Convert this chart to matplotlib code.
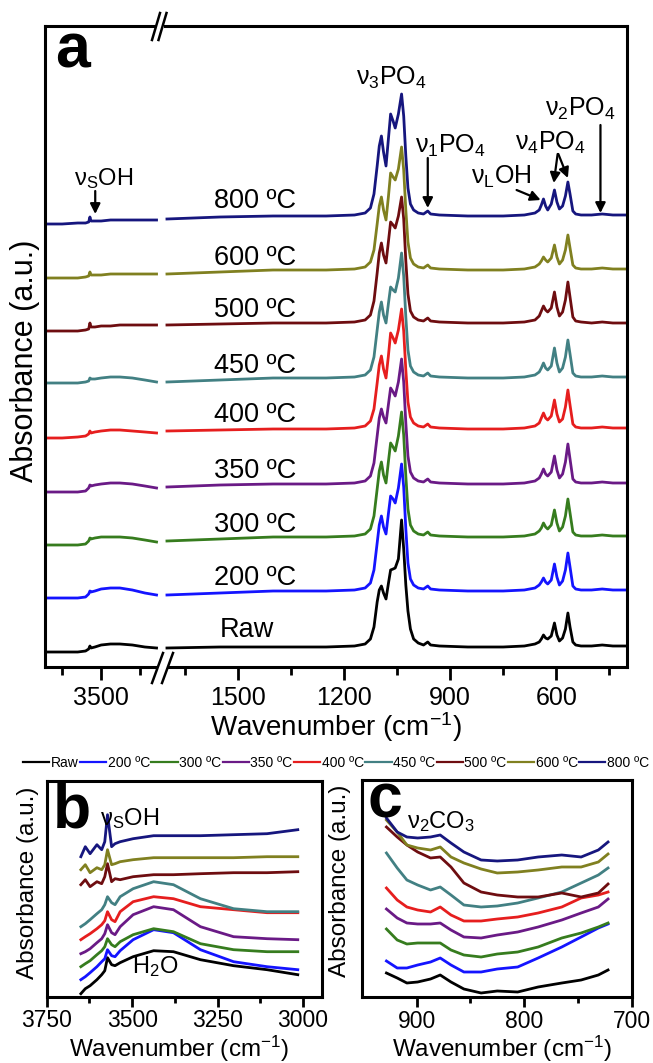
import numpy as np
import matplotlib
matplotlib.use('Agg')
import matplotlib.pyplot as plt
from matplotlib.lines import Line2D

plt.rcParams['font.family'] = ['Liberation Sans', 'DejaVu Sans']
plt.rcParams['mathtext.fontset'] = 'custom'
plt.rcParams['mathtext.rm'] = 'Liberation Sans'
plt.rcParams['mathtext.it'] = 'Liberation Sans:italic'
plt.rcParams['mathtext.bf'] = 'Liberation Sans:bold'

# samples, bottom -> top
samples = ['Raw', '200 ºC', '300 ºC', '350 ºC', '400 ºC', '450 ºC', '500 ºC', '600 ºC', '800 ºC']
colors = ['#000000', '#1414ff', '#367c1e', '#6a1a86', '#e61e1e', '#428083', '#6e0d10', '#808020', '#16167e']

# ---- panel a, OH region (left of the axis break)
wn_oh = [3860, 3750, 3650, 3600, 3580, 3572, 3565, 3540, 3500, 3440, 3380, 3300, 3220, 3145]
oh_raw = [-5, -5, -5, -4, -2, 1, -1, 0, 2, 3, 3, 2, 0, -1]
oh_200 = [-7, -7, -7, -6, -3, 0, -1, 0, 2, 3, 3, 1, -2, -4]
oh_300 = [-8, -8, -8, -7, -4, -1, -2, -1, 0, 0, 0, -1, -3, -5]
oh_350 = [-8, -8, -8, -7, -4, -1, -2, -1, 0, 1, 1, 0, -2, -4]
oh_400 = [-9, -9, -8, -7, -5, -2, -4, -3, -2, -1, -1, -2, -3, -4]
oh_450 = [-5, -5, -5, -4, -3, 0, -1, -1, 0, 1, 1, 0, -2, -4]
oh_500 = [-8, -8, -8, -7, -6, 0, -4, -4, -3, -3, -2, -2, -2, -2]
oh_600 = [-8, -8, -8, -7, -6, -2, -5, -5, -5, -4, -4, -4, -4, -4]
oh_800 = [-8, -8, -7, -7, -6, -1, -5, -5, -5, -4, -4, -4, -4, -4]

# ---- panel a, phosphate region (right of the break)
wn_fp = [1700, 1550, 1400, 1250, 1170, 1140, 1125, 1115, 1106, 1100,
         1094, 1088, 1081, 1074, 1068, 1061, 1055, 1046, 1037, 1031,
         1025, 1019, 1012, 1003, 990, 975, 963, 955, 930, 850, 750,
         690, 660, 648, 642, 636, 630, 624, 614, 605, 598,
         591, 582, 574, 567, 561, 553, 545, 530, 500, 470, 440, 405]
fp_raw = [-1, 0, 0, 0, 1, 3, 8, 20, 45, 57, 61, 54, 48, 64, 77, 78, 79, 88, 127, 98,
          62, 36, 18, 8, 4, 2, 5, 2, 1, 0, 0,
          1, 3, 5, 8, 12, 9, 8, 11, 24, 12, 6, 9, 18, 34, 20, 5, 2, 1, 1, 2, 1, 1]
fp_200 = [-4, -2, 0, 0, 1, 3, 8, 21, 48, 66, 75, 64, 57, 78, 95, 92, 88, 103, 127, 104,
          62, 28, 12, 6, 3, 2, 5, 2, 1, 0, 0,
          1, 3, 6, 9, 13, 9, 7, 11, 27, 14, 6, 10, 21, 38, 24, 5, 2, 1, 1, 2, 1, 1]
fp_300 = [-4, -2, 0, 0, 1, 3, 8, 21, 48, 66, 75, 62, 54, 76, 94, 90, 86, 101, 125, 102,
          61, 28, 12, 6, 3, 2, 5, 2, 1, 0, 0,
          1, 3, 6, 9, 14, 10, 8, 12, 27, 14, 6, 10, 21, 38, 24, 5, 2, 1, 1, 2, 1, 1]
fp_350 = [-3, -1, 0, 0, 1, 3, 8, 21, 48, 66, 75, 67, 61, 80, 96, 92, 88, 102, 125, 102,
          61, 28, 12, 6, 3, 2, 5, 2, 1, 0, 0,
          1, 3, 6, 10, 15, 10, 8, 12, 28, 14, 6, 10, 22, 40, 25, 5, 2, 1, 1, 2, 1, 1]
fp_400 = [-2, -1, 0, 0, 1, 3, 8, 20, 46, 64, 73, 60, 51, 74, 96, 91, 86, 99, 120, 98,
          59, 27, 12, 6, 3, 2, 5, 2, 1, 0, 0,
          1, 3, 6, 11, 16, 11, 9, 13, 29, 15, 7, 10, 22, 39, 24, 5, 2, 1, 1, 2, 1, 1]
fp_450 = [-4, -2, 0, 0, 1, 3, 8, 21, 48, 66, 76, 63, 55, 75, 91, 88, 86, 100, 125, 102,
          61, 28, 12, 6, 3, 2, 5, 2, 1, 0, 0,
          1, 3, 6, 10, 15, 10, 8, 12, 30, 15, 6, 10, 21, 38, 24, 5, 2, 1, 1, 2, 1, 1]
fp_500 = [-2, -1, 0, 0, 1, 3, 8, 22, 50, 70, 80, 68, 60, 82, 101, 98, 95, 107, 126, 104,
          62, 29, 12, 6, 3, 2, 5, 2, 1, 0, 0,
          1, 3, 7, 12, 17, 13, 11, 15, 31, 16, 7, 11, 23, 41, 26, 6, 2, 1, 0, 1, 0, 0]
fp_600 = [-4, -2, 0, 0, 1, 3, 8, 20, 46, 64, 73, 60, 50, 74, 97, 93, 90, 101, 123, 100,
          60, 28, 12, 6, 3, 2, 5, 2, 1, 0, 0,
          1, 3, 6, 9, 13, 10, 8, 12, 25, 13, 6, 10, 20, 35, 22, 5, 2, 1, 1, 2, 1, 1]
fp_800 = [-3, -1, 0, 0, 1, 3, 8, 22, 50, 70, 80, 64, 50, 78, 102, 95, 88, 102, 122, 100,
          60, 28, 12, 6, 3, 2, 5, 2, 1, 0, 0,
          1, 3, 6, 11, 17, 10, 6, 12, 26, 14, 7, 10, 20, 34, 22, 5, 2, 1, 1, 2, 1, 1]
# vertical stacking of panel a
offsets_a = [20, 76, 130, 183, 238, 289, 344, 397, 451]

# ---- panel b, OH stretching
wn_b = [3650, 3637, 3623, 3603, 3589, 3580, 3572, 3560, 3550, 3535, 3497, 3437, 3379, 3300, 3203, 3105, 3015]
b_raw = [3, 8, 11, 17, 22, 26, 39, 32, 31, 34, 40, 46, 45, 37, 31, 27, 22]
b_200 = [17, 20, 24, 30, 35, 38, 47, 41, 40, 46, 57, 67, 64, 47, 35, 30, 27]
b_300 = [30, 33, 36, 42, 46, 50, 58, 52, 50, 55, 62, 68, 65, 53, 47, 45, 45]
b_350 = [43, 45, 48, 54, 58, 63, 72, 64, 62, 70, 82, 90, 87, 70, 60, 58, 57]
b_400 = [57, 60, 63, 68, 72, 76, 85, 77, 75, 85, 95, 100, 98, 90, 87, 84, 84]
b_450 = [70, 73, 77, 83, 87, 92, 100, 94, 92, 100, 108, 115, 112, 98, 88, 85, 85]
b_500 = [112, 117, 110, 115, 113, 120, 133, 115, 118, 117, 120, 122, 122, 123, 124, 124, 125]
b_600 = [127, 132, 124, 129, 127, 132, 147, 132, 133, 135, 137, 139, 139, 139, 139, 140, 140]
b_800 = [140, 150, 143, 152, 147, 155, 182, 150, 153, 155, 158, 161, 161, 161, 162, 163, 167]

# ---- panel c, carbonate
wn_c = [928, 918, 909, 899, 887, 878, 868, 856, 840, 825, 806, 787, 765, 747, 731, 722]
c_raw = [24, 19, 14, 15, 18, 22, 15, 8, 4, 6, 5, 10, 14, 17, 22, 27]
c_200 = [36, 29, 29, 32, 35, 39, 32, 25, 25, 28, 30, 39, 50, 60, 69, 73]
c_300 = [68, 57, 53, 54, 54, 54, 47, 42, 40, 43, 45, 50, 59, 64, 70, 74]
c_350 = [88, 79, 74, 73, 73, 74, 67, 60, 59, 62, 65, 70, 77, 84, 90, 98]
c_400 = [109, 97, 90, 87, 85, 90, 82, 76, 76, 78, 80, 84, 90, 99, 102, 105]
c_450 = [144, 129, 117, 112, 107, 110, 102, 92, 90, 91, 94, 99, 105, 114, 122, 129]
c_500 = [170, 160, 152, 145, 139, 140, 130, 114, 105, 102, 100, 100, 104, 100, 104, 113]
c_600 = [177, 165, 152, 149, 147, 150, 140, 134, 128, 124, 125, 127, 130, 130, 135, 143]
c_800 = [179, 165, 160, 159, 160, 162, 154, 145, 137, 136, 137, 140, 142, 140, 147, 155]

oh_all = [oh_raw, oh_200, oh_300, oh_350, oh_400, oh_450, oh_500, oh_600, oh_800]
fp_all = [fp_raw, fp_200, fp_300, fp_350, fp_400, fp_450, fp_500, fp_600, fp_800]
b_all = [b_raw, b_200, b_300, b_350, b_400, b_450, b_500, b_600, b_800]
c_all = [c_raw, c_200, c_300, c_350, c_400, c_450, c_500, c_600, c_800]

W, H = 653, 1063
fig = plt.figure(figsize=(W / 100, H / 100), dpi=100)


def rect(x0, y0, x1, y1):
    # pixel box -> figure fraction
    return [x0 / W, 1 - y1 / H, (x1 - x0) / W, (y1 - y0) / H]


def fig_line(xs, ys, **kw):
    fig.add_artist(Line2D([x / W for x in xs], [1 - y / H for y in ys],
                          transform=fig.transFigure, **kw))


def style(ax, size, major=8, minor=5, pad=4):
    for s in ax.spines.values():
        s.set_linewidth(2.2)
    ax.tick_params(axis='x', which='major', direction='out', length=major, width=2,
                   labelsize=size, pad=pad)
    ax.tick_params(axis='x', which='minor', direction='out', length=minor, width=2)
    ax.tick_params(axis='y', left=False, labelleft=False)


lw = 2.0

# ================= panel a (broken x axis)
axL = fig.add_axes(rect(45, 26, 162, 667))
axR = fig.add_axes(rect(162, 26, 627, 667))
for i in range(len(samples)):
    axL.plot(wn_oh, np.array(oh_all[i]) + offsets_a[i], color=colors[i], lw=lw)
    axR.plot(wn_fp, np.array(fp_all[i]) + offsets_a[i], color=colors[i], lw=lw)
for ax in (axL, axR):
    ax.set_ylim(0, 641)
    style(ax, 18, major=9, minor=5.5, pad=4.5)
axL.set_xlim(3860, 3110)
axR.set_xlim(1714, 400)
axL.spines['right'].set_visible(False)
axR.spines['left'].set_visible(False)
axL.set_xticks([3500])
axL.set_xticks([3750, 3250], minor=True)
axR.set_xticks([1500, 1200, 900, 600])
axR.set_xticks([1650, 1350, 1050, 750, 450], minor=True)

# break marks
fig_line([156, 164], [26, 26], color='white', lw=4, solid_capstyle='butt')
fig_line([152, 160], [40, 13], color='k', lw=1.8)
fig_line([158.5, 166.5], [40, 13], color='k', lw=1.8)
fig_line([158, 168], [667, 667], color='white', lw=4, solid_capstyle='butt')
fig_line([152, 163], [683, 653], color='k', lw=1.8)
fig_line([162, 173], [683, 653], color='k', lw=1.8)

# temperature labels
label_y = [30, 82, 135, 189, 245, 294, 350, 402, 459]
for i, s in enumerate(samples):
    axR.text(1475 if s == 'Raw' else 1450, label_y[i], s, ha='center', va='baseline', fontsize=19.5)

arrow = dict(arrowstyle='-|>', color='k', lw=1.6, mutation_scale=15, shrinkA=0, shrinkB=0)
fs_ann = 18
axL.text(3487, 482, r'$\mathregular{\nu_S}$OH', ha='center', va='baseline', fontsize=17)
axL.annotate('', xy=(3538, 453), xytext=(3538, 476), arrowprops=arrow)
axR.text(1067, 582, r'$\mathregular{\nu_3PO_4}$', ha='center', va='baseline', fontsize=fs_ann)
axR.text(898, 514, r'$\mathregular{\nu_1PO_4}$', ha='center', va='baseline', fontsize=fs_ann)
axR.annotate('', xy=(963, 459), xytext=(963, 509), arrowprops=arrow)
axR.text(754, 483, r'$\mathregular{\nu_LOH}$', ha='center', va='baseline', fontsize=fs_ann)
axR.annotate('', xy=(644, 467), xytext=(712, 477), arrowprops=arrow)
axR.text(616, 517, r'$\mathregular{\nu_4PO_4}$', ha='center', va='baseline', fontsize=fs_ann)
axR.annotate('', xy=(607, 484), xytext=(596, 513), arrowprops=arrow)
axR.annotate('', xy=(567, 489), xytext=(594, 513), arrowprops=arrow)
axR.text(531, 551, r'$\mathregular{\nu_2PO_4}$', ha='center', va='baseline', fontsize=fs_ann)
axR.annotate('', xy=(475, 454), xytext=(475, 542), arrowprops=arrow)

fig.text(55 / W, 1 - 68 / H, 'a', fontsize=45, fontweight='bold', ha='left', va='baseline')
fig.text(336 / W, 1 - 736 / H, r'Wavenumber (cm$^{\mathregular{-1}}$)', fontsize=20,
         ha='center', va='baseline')
fig.text(25 / W, 1 - 361 / H, 'Absorbance (a.u.)', fontsize=22, rotation=90,
         ha='center', va='center')

# ================= legend row
handles = [Line2D([], [], color=c, lw=1.6) for c in colors]
fig.legend(handles, samples, loc='center', bbox_to_anchor=(336 / W, 1 - 763 / H), ncol=9,
           frameon=False, fontsize=10, handlelength=1.9, handletextpad=0.1,
           columnspacing=0.1, borderpad=0, borderaxespad=0)

# ================= panel b
axB = fig.add_axes(rect(46.7, 781, 321.7, 996.7))
for i in range(len(samples)):
    axB.plot(wn_b, b_all[i], color=colors[i], lw=lw)
axB.set_xlim(3750, 2945)
axB.set_ylim(0, 215.7)
style(axB, 16.5, major=7, minor=4.5, pad=2)
axB.set_xticks([3750, 3500, 3250, 3000])
axB.set_xticks([3625, 3375, 3125], minor=True)
axB.text(3731, 169, 'b', fontsize=45, fontweight='bold', ha='left', va='baseline')
axB.text(3593, 172, r'$\mathregular{\nu_S}$OH', fontsize=17, ha='left', va='baseline')
axB.text(3500, 24, r'H$_\mathregular{2}$O', fontsize=17, ha='left', va='baseline')
fig.text(179 / W, 1 - 1057 / H, r'Wavenumber (cm$^{\mathregular{-1}}$)', fontsize=17.5,
         ha='center', va='baseline')
fig.text(28 / W, 1 - 883 / H, 'Absorbance (a.u.)', fontsize=17.5, rotation=90,
         ha='center', va='center')

# ================= panel c
axC = fig.add_axes(rect(361.7, 780, 631.7, 997))
for i in range(len(samples)):
    axC.plot(wn_c, c_all[i], color=colors[i], lw=lw)
axC.set_xlim(951, 700)
axC.set_ylim(0, 217)
style(axC, 16.5, major=7, minor=4.5, pad=2)
axC.set_xticks([900, 800, 700])
axC.set_xticks([850, 750], minor=True)
axC.text(946, 180, 'c', fontsize=45, fontweight='bold', ha='left', va='baseline')
axC.text(908.7, 169, r'$\mathregular{\nu_2CO_3}$', fontsize=17, ha='left', va='baseline')
fig.text(502 / W, 1 - 1057 / H, r'Wavenumber (cm$^{\mathregular{-1}}$)', fontsize=17.5,
         ha='center', va='baseline')
fig.text(340 / W, 1 - 881 / H, 'Absorbance (a.u.)', fontsize=17.5, rotation=90,
         ha='center', va='center')

fig.savefig('out.png', dpi=100)
